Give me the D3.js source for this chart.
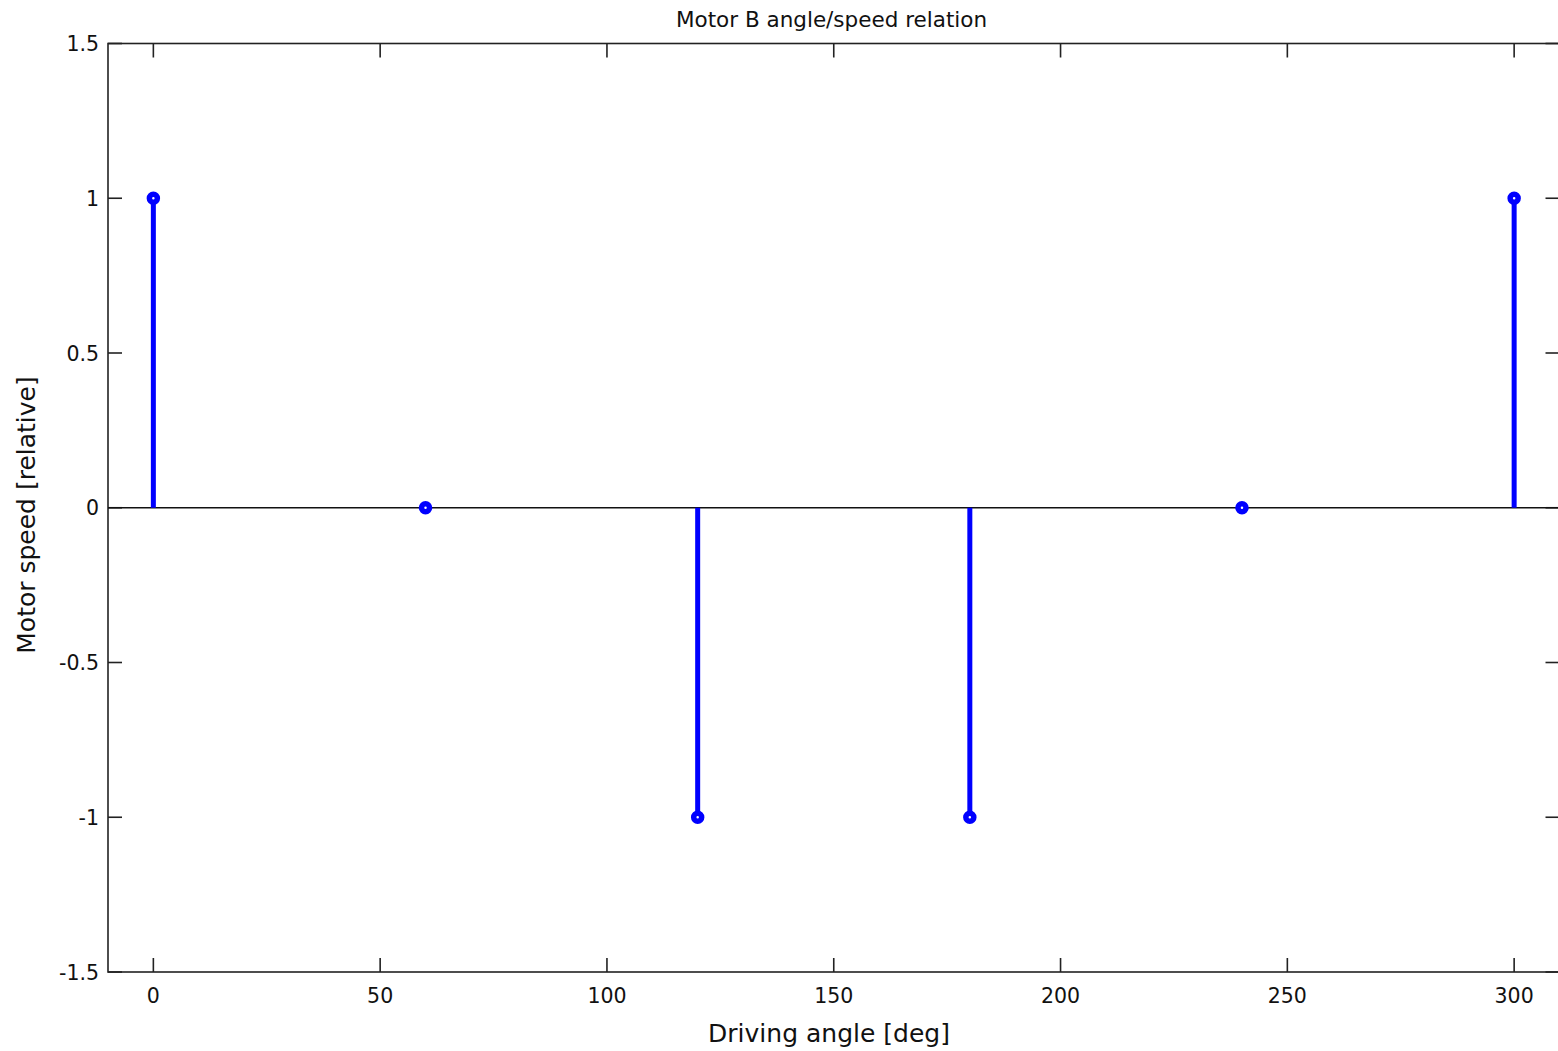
<!DOCTYPE html>
<html>
<head>
<meta charset="utf-8">
<script src="https://cdn.jsdelivr.net/npm/d3@7"></script>
<style>
  body { margin: 0; background: #fff; }
  text { font-family: "DejaVu Sans", sans-serif; fill: #111; }
</style>
</head>
<body>
<div id="chart"></div>
<script>
// stem data
var angles = [0, 60, 120, 180, 240, 300];
var speeds = [1, 0, -1, -1, 0, 1];
var xTicks = [0, 50, 100, 150, 200, 250, 300];
var yTicks = [-1.5, -1, -0.5, 0, 0.5, 1, 1.5];

var W = 1558, H = 1051;
var m = { left: 108, right: 1559.5, top: 43.5, bottom: 972 };

var svg = d3.select('#chart').append('svg')
  .attr('width', W)
  .attr('height', H);

var x = d3.scaleLinear().domain([-10, 310]).range([m.left, m.right]);
var y = d3.scaleLinear().domain([-1.5, 1.5]).range([m.bottom, m.top]);

var tickLen = 14;
var axes = svg.append('g').attr('stroke', '#222').attr('stroke-width', 1.6);

// frame
axes.append('rect')
  .attr('x', m.left).attr('y', m.top)
  .attr('width', m.right - m.left).attr('height', m.bottom - m.top)
  .attr('fill', 'none');

// inward ticks on all four sides
axes.selectAll('.xb').data(xTicks).enter().append('line')
  .attr('x1', function(d) { return x(d); }).attr('x2', function(d) { return x(d); })
  .attr('y1', m.bottom).attr('y2', m.bottom - tickLen);
axes.selectAll('.xt').data(xTicks).enter().append('line')
  .attr('x1', function(d) { return x(d); }).attr('x2', function(d) { return x(d); })
  .attr('y1', m.top).attr('y2', m.top + tickLen);
axes.selectAll('.yl').data(yTicks).enter().append('line')
  .attr('x1', m.left).attr('x2', m.left + tickLen)
  .attr('y1', function(d) { return y(d); }).attr('y2', function(d) { return y(d); });
axes.selectAll('.yr').data(yTicks).enter().append('line')
  .attr('x1', m.right).attr('x2', m.right - tickLen)
  .attr('y1', function(d) { return y(d); }).attr('y2', function(d) { return y(d); });

// tick labels
svg.selectAll('.xl').data(xTicks).enter().append('text')
  .attr('x', function(d) { return x(d); })
  .attr('y', 1003)
  .attr('text-anchor', 'middle')
  .style('font-size', '20.5px')
  .text(function(d) { return d; });
svg.selectAll('.ylab').data(yTicks).enter().append('text')
  .attr('x', 99)
  .attr('y', function(d) { return y(d) + 7.5; })
  .attr('text-anchor', 'end')
  .style('font-size', '20.5px')
  .text(function(d) { return d; });

// baseline at zero
svg.append('line')
  .attr('x1', m.left).attr('x2', m.right)
  .attr('y1', y(0)).attr('y2', y(0))
  .attr('stroke', '#111').attr('stroke-width', 1.6);

var pts = angles.map(function(a, i) { return [a, speeds[i]]; });

svg.selectAll('.stem').data(pts).enter().append('line')
  .attr('x1', function(d) { return x(d[0]); }).attr('x2', function(d) { return x(d[0]); })
  .attr('y1', y(0)).attr('y2', function(d) { return y(d[1]); })
  .attr('stroke', '#0000ff').attr('stroke-width', 5);

svg.selectAll('.mark').data(pts).enter().append('circle')
  .attr('cx', function(d) { return x(d[0]); })
  .attr('cy', function(d) { return y(d[1]); })
  .attr('r', 4)
  .attr('fill', '#fff')
  .attr('stroke', '#0000ff').attr('stroke-width', 5.5);

// titles
svg.append('text')
  .attr('x', 831.5).attr('y', 27)
  .attr('text-anchor', 'middle')
  .style('font-size', '21.5px')
  .text('Motor B angle/speed relation');
svg.append('text')
  .attr('x', 829).attr('y', 1042)
  .attr('text-anchor', 'middle')
  .style('font-size', '25px')
  .text('Driving angle [deg]');
svg.append('text')
  .attr('transform', 'translate(35,515) rotate(-90)')
  .attr('text-anchor', 'middle')
  .style('font-size', '25px')
  .text('Motor speed [relative]');
</script>
</body>
</html>
